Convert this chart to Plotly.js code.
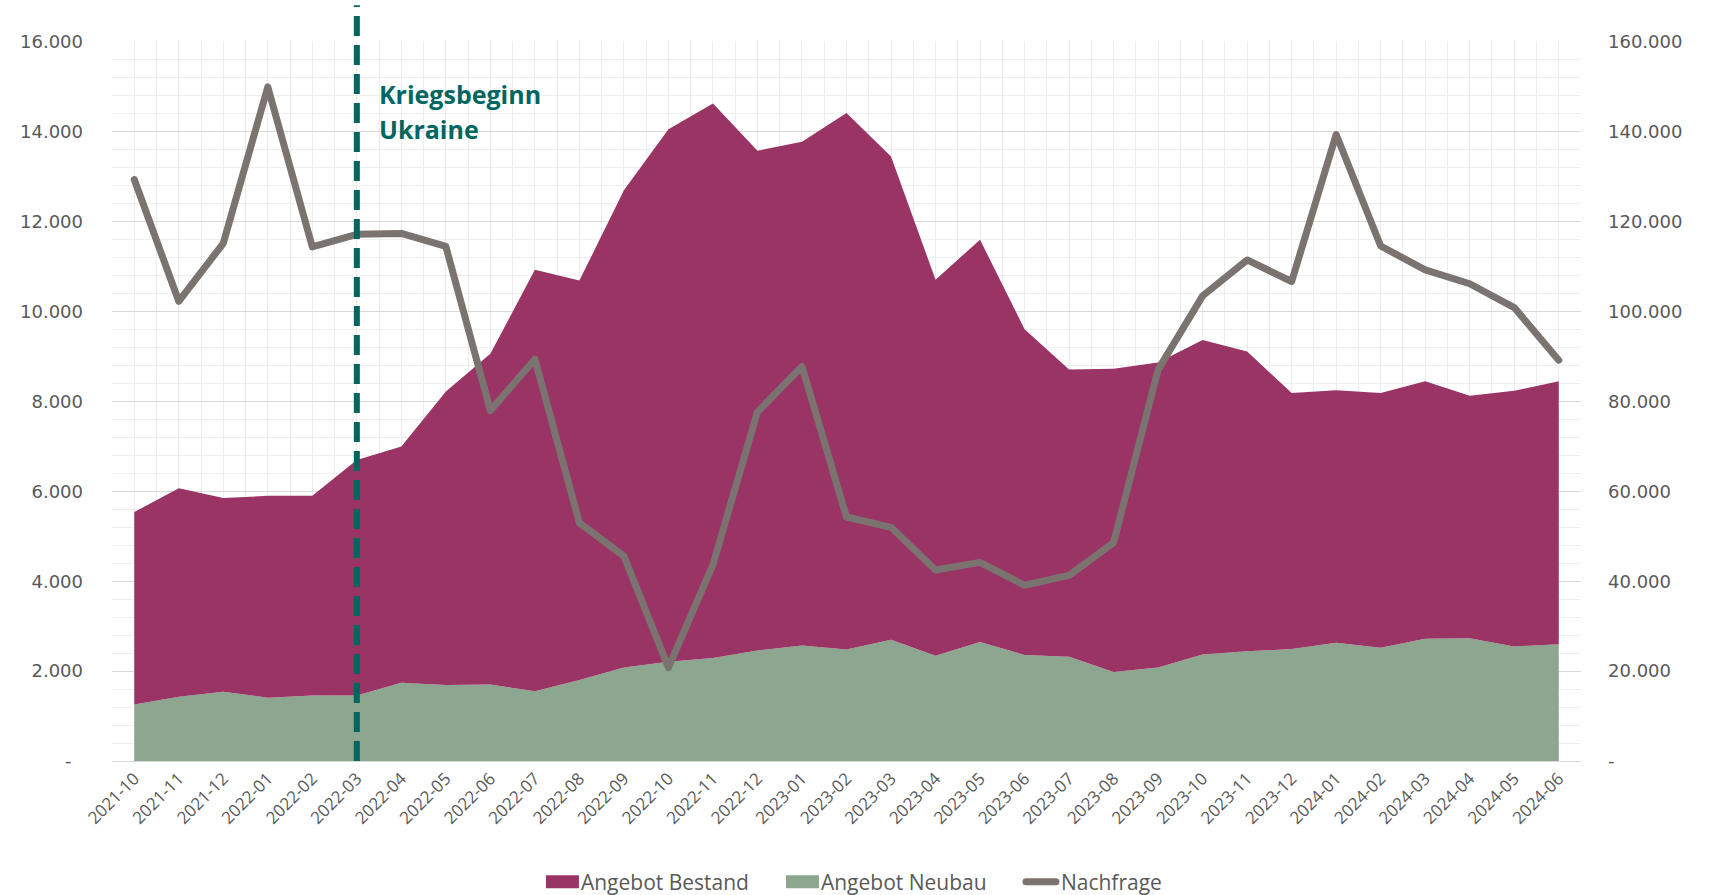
<!DOCTYPE html>
<html>
<head>
<meta charset="utf-8">
<script src="https://cdn.plot.ly/plotly-3.0.1.min.js"></script>
<style>
html,body{margin:0;padding:0;background:#fff;}
#chart{width:1709px;height:895px;}
#chart .scatterlayer .js-line{stroke-linejoin:round;stroke-linecap:round;}
</style>
</head>
<body>
<div id="chart"></div>
<script>
// ---- data ----
var categories = ['2021-10','2021-11','2021-12','2022-01','2022-02','2022-03','2022-04','2022-05','2022-06','2022-07','2022-08','2022-09','2022-10','2022-11','2022-12','2023-01','2023-02','2023-03','2023-04','2023-05','2023-06','2023-07','2023-08','2023-09','2023-10','2023-11','2023-12','2024-01','2024-02','2024-03','2024-04','2024-05','2024-06'];

var angebotNeubau = [1260,1430,1540,1410,1460,1460,1740,1690,1700,1550,1800,2080,2210,2290,2460,2570,2480,2700,2340,2650,2360,2320,1980,2080,2370,2440,2490,2630,2520,2720,2730,2550,2600];

var angebotBestand = [4280,4640,4310,4490,4440,5240,5260,6530,7360,9380,8890,10620,11850,12340,11120,11210,11940,10750,8370,8950,7250,6390,6750,6790,7000,6670,5700,5620,5670,5730,5400,5690,5850];

var nachfrage = [129400,102300,115200,150000,114400,117200,117400,114500,78000,89400,53000,45600,20800,43700,77700,87800,54300,52000,42500,44200,39100,41300,48600,87100,103500,111500,106700,139400,114600,109300,106200,100900,89200];

var leftTickVals = [0,2000,4000,6000,8000,10000,12000,14000,16000];
var leftTickText = ['-\u00a0\u00a0','2.000','4.000','6.000','8.000','10.000','12.000','14.000','16.000'];
var rightTickVals = [0,20000,40000,60000,80000,100000,120000,140000,160000];
var rightTickText = ['-','20.000','40.000','60.000','80.000','100.000','120.000','140.000','160.000'];

var eventCategory = '2022-03';
var eventLabelLines = ['Kriegsbeginn','Ukraine'];

// ---- chart ----
var colBestand = '#9a3465', colNeubau = '#8da68f', colNachfrage = '#7a7370';
var xIdx = categories.map(function(c,i){return i;});
var eventIdx = categories.indexOf(eventCategory);

var traces = [
  {
    x: xIdx, y: angebotNeubau, name: 'Angebot Neubau', type: 'scatter', mode: 'lines',
    stackgroup: 'angebot', line: {width: 0, color: colNeubau}, fillcolor: colNeubau,
    showlegend: false, hoverinfo: 'skip'
  },
  {
    x: xIdx, y: angebotBestand, name: 'Angebot Bestand', type: 'scatter', mode: 'lines',
    stackgroup: 'angebot', line: {width: 0, color: colBestand}, fillcolor: colBestand,
    showlegend: false, hoverinfo: 'skip'
  },
  {
    x: xIdx, y: nachfrage, name: 'Nachfrage', type: 'scatter', mode: 'lines',
    yaxis: 'y2', line: {width: 7, color: colNachfrage, shape: 'linear'},
    showlegend: false, hoverinfo: 'skip'
  },
  // legend entries
  {x: [null], y: [null], name: 'Angebot Bestand', type: 'scatter', mode: 'lines',
   line: {width: 10, color: colBestand}, legendrank: 1, hoverinfo: 'skip'},
  {x: [null], y: [null], name: 'Angebot Neubau', type: 'scatter', mode: 'lines',
   line: {width: 10, color: colNeubau}, legendrank: 2, hoverinfo: 'skip'},
  {x: [null], y: [null], name: 'Nachfrage', type: 'scatter', mode: 'lines',
   line: {width: 7, color: colNachfrage}, legendrank: 3, hoverinfo: 'skip'}
];

var tickFontX = {family: 'Open Sans, sans-serif', size: 17, color: '#595959'};
var tickFontY = {family: 'DejaVu Sans, sans-serif', size: 18, color: '#595959'};

var layout = {
  width: 1709, height: 895,
  margin: {l: 112, r: 128, t: 42, b: 134, autoexpand: false},
  paper_bgcolor: '#ffffff', plot_bgcolor: '#ffffff',
  showlegend: true,
  legend: {
    orientation: 'h', x: 0.292, xanchor: 'left', yref: 'container', y: 0.0145, yanchor: 'middle',
    font: {family: 'Open Sans, sans-serif', size: 21, color: '#595959'},
    traceorder: 'normal', itemwidth: 30, entrywidth: 195, entrywidthmode: 'pixels'
  },
  xaxis: {
    type: 'linear', range: [-0.5, 32.5], fixedrange: true, automargin: false,
    tickmode: 'array', tickvals: xIdx, ticktext: categories,
    tickangle: -45, tickfont: tickFontX, ticks: '',
    showgrid: true, gridcolor: '#ececec', gridwidth: 1,
    minor: {tickmode: 'linear', tick0: 0.5, dtick: 1, showgrid: true, gridcolor: '#ececec', gridwidth: 1, ticks: ''},
    showline: true, linecolor: '#d9d9d9', linewidth: 1, zeroline: false
  },
  yaxis: {
    range: [0, 16000], fixedrange: true, automargin: false,
    tickmode: 'array', tickvals: leftTickVals, ticktext: leftTickText,
    tickfont: tickFontY, ticks: '', ticklabelstandoff: 28,
    showgrid: true, gridcolor: '#d9d9d9', gridwidth: 1,
    minor: {tickmode: 'linear', tick0: 0, dtick: 400, showgrid: true, gridcolor: '#efefef', gridwidth: 1, ticks: ''},
    zeroline: false, showline: false
  },
  yaxis2: {
    range: [0, 160000], fixedrange: true, overlaying: 'y', side: 'right', automargin: false,
    tickmode: 'array', tickvals: rightTickVals, ticktext: rightTickText,
    tickfont: tickFontY, ticks: '', ticklabelstandoff: 26,
    showgrid: false, zeroline: false, showline: false
  },
  shapes: [
    {
      type: 'line', xref: 'x', yref: 'paper', x0: eventIdx, x1: eventIdx, y0: 0, y1: 1.051,
      line: {color: '#00665f', width: 6, dash: '20px,9px'}, layer: 'above'
    }
  ],
  annotations: [
    {
      xref: 'x', yref: 'paper', x: eventIdx, y: 0.9283, xanchor: 'left', yanchor: 'middle', xshift: 20,
      text: '<b>' + eventLabelLines[0] + '</b>', showarrow: false,
      font: {family: 'Open Sans, sans-serif', size: 25, color: '#00665f'}
    },
    {
      xref: 'x', yref: 'paper', x: eventIdx, y: 0.8796, xanchor: 'left', yanchor: 'middle', xshift: 20,
      text: '<b>' + eventLabelLines[1] + '</b>', showarrow: false,
      font: {family: 'Open Sans, sans-serif', size: 25, color: '#00665f'}
    }
  ]
};

Plotly.newPlot('chart', traces, layout, {displayModeBar: false, staticPlot: true}).then(function(gd){
  // make the area swatches in the legend look like filled rectangles
  gd.querySelectorAll('.legend .traces').forEach(function(g){
    var t = g.querySelector('.legendtext');
    var name = t ? t.textContent : '';
    g.querySelectorAll('.js-line').forEach(function(p){
      if (name.indexOf('Angebot') === 0) {
        p.setAttribute('d', 'M5,0h33');
        p.style.strokeWidth = '13px';
        p.style.strokeLinecap = 'butt';
      } else {
        p.style.strokeLinecap = 'round';
      }
    });
  });
});
</script>
</body>
</html>
